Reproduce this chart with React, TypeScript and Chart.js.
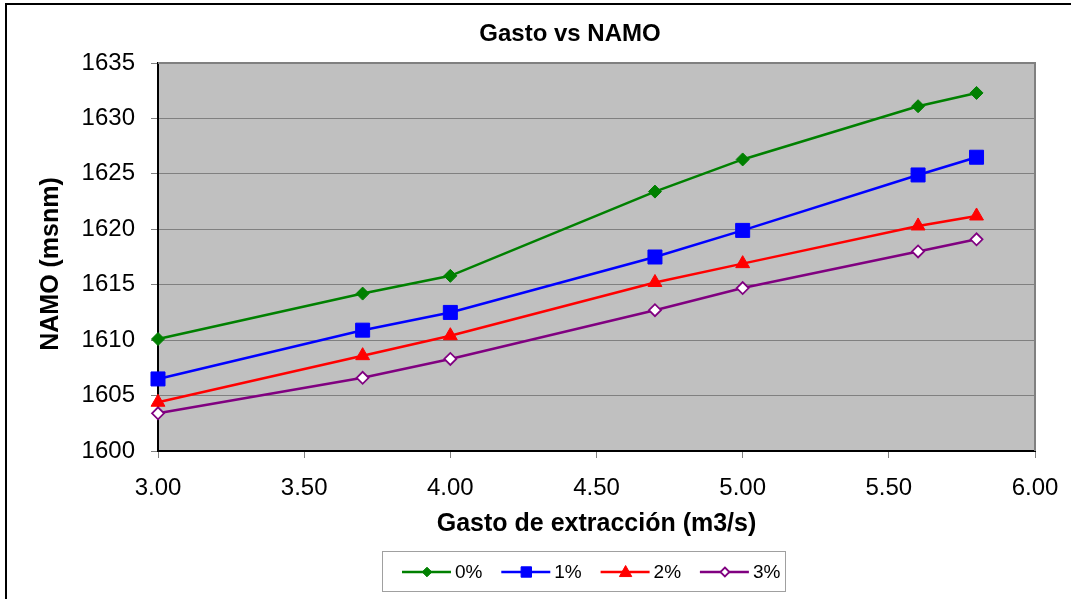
import React, { useEffect, useRef } from "react";
import { Chart, registerables } from "chart.js";

Chart.register(...registerables);

const gastoX = [3.0, 3.7, 4.0, 4.7, 5.0, 5.6, 5.8];
const serie0 = [1610.1, 1614.2, 1615.8, 1623.4, 1626.3, 1631.1, 1632.3];
const serie1 = [1606.5, 1610.9, 1612.5, 1617.5, 1619.9, 1624.9, 1626.5];
const serie2 = [1604.4, 1608.6, 1610.4, 1615.2, 1616.9, 1620.3, 1621.2];
const serie3 = [1603.4, 1606.6, 1608.3, 1612.7, 1614.7, 1618.0, 1619.1];
const seriesNames = ["0%", "1%", "2%", "3%"];
const chartTitle = "Gasto vs NAMO";
const xTitle = "Gasto de extracción (m3/s)";
const yTitle = "NAMO (msnm)";

const FONT = "'Liberation Sans', Arial, sans-serif";

function drawMarker(ctx: CanvasRenderingContext2D, kind: string, x: number, y: number, r: number, stroke: string, fill: string, lw: number) {
  ctx.save();
  ctx.beginPath();
  if (kind === "rectRot") {
    ctx.moveTo(x, y - r);
    ctx.lineTo(x + r, y);
    ctx.lineTo(x, y + r);
    ctx.lineTo(x - r, y);
    ctx.closePath();
  } else if (kind === "rect") {
    ctx.rect(x - r, y - r, 2 * r, 2 * r);
  } else {
    ctx.moveTo(x, y - r);
    ctx.lineTo(x + r * 0.95, y + r * 0.7);
    ctx.lineTo(x - r * 0.95, y + r * 0.7);
    ctx.closePath();
  }
  ctx.fillStyle = fill;
  ctx.fill();
  ctx.lineWidth = lw;
  ctx.strokeStyle = stroke;
  ctx.stroke();
  ctx.restore();
}

export default function App() {
  const ref = useRef<HTMLCanvasElement | null>(null);
  useEffect(() => {
    if (!ref.current) return;
    const mk = (ys: number[]) => gastoX.map((x, i) => ({ x, y: ys[i] }));
    const colors = ["#008000", "#0000FF", "#FF0000", "#800080"];
    const styles = ["rectRot", "rect", "triangle", "rectRot"];
    const radii = [6.5, 9.9, 8, 6];
    const fills = ["#008000", "#0000FF", "#FF0000", "#FFFFFF"];
    const pbw = [1, 1, 1, 1.8];
    const all = [serie0, serie1, serie2, serie3];

    const decor = {
      id: "decor",
      beforeDraw(chart: any) {
        const { ctx, chartArea: a } = chart;
        ctx.save();
        ctx.fillStyle = "#FFFFFF";
        ctx.fillRect(0, 0, chart.width, chart.height);
        ctx.fillStyle = "#C0C0C0";
        ctx.fillRect(a.left, a.top, a.right - a.left, a.bottom - a.top);
        ctx.strokeStyle = "#000000";
        ctx.lineWidth = 2;
        ctx.strokeRect(6, 4, 1200, 800);
        ctx.restore();
      },
      beforeDatasetsDraw(chart: any) {
        const { ctx, chartArea: a } = chart;
        ctx.save();
        ctx.strokeStyle = "#808080";
        ctx.lineWidth = 2;
        ctx.beginPath();
        ctx.moveTo(a.left, a.top);
        ctx.lineTo(a.right, a.top);
        ctx.lineTo(a.right, a.bottom);
        ctx.stroke();
        ctx.restore();
      },
      afterDraw(chart: any) {
        const { ctx } = chart;
        ctx.save();
        ctx.fillStyle = "#000000";
        ctx.font = `bold 24px ${FONT}`;
        ctx.textAlign = "center";
        ctx.textBaseline = "middle";
        ctx.fillText(chartTitle, 570, 34);
        ctx.save();
        ctx.translate(51, 264);
        ctx.rotate(-Math.PI / 2);
        ctx.font = `bold 25px ${FONT}`;
        ctx.fillText(yTitle, 0, 0);
        ctx.restore();
        ctx.strokeStyle = "#A0A0A0";
        ctx.lineWidth = 1;
        ctx.strokeRect(382.5, 551.5, 403, 40);
        const lx0 = 402;
        const step = 99.3;
        const ly = 572;
        const lr = [4.8, 5.2, 6.5, 4.5];
        seriesNames.forEach((name, i) => {
          const x = lx0 + i * step;
          ctx.strokeStyle = colors[i];
          ctx.lineWidth = 2.5;
          ctx.beginPath();
          ctx.moveTo(x, ly);
          ctx.lineTo(x + 49, ly);
          ctx.stroke();
          drawMarker(ctx, styles[i], x + 25, ly, lr[i], colors[i], fills[i], pbw[i]);
          ctx.fillStyle = "#000000";
          ctx.font = `19px ${FONT}`;
          ctx.textAlign = "left";
          ctx.textBaseline = "middle";
          ctx.fillText(name, x + 53, ly + 1);
        });
        ctx.restore();
      },
    };

    const chart = new Chart(ref.current, {
      type: "line",
      data: {
        datasets: all.map((ys, i) => ({
          label: seriesNames[i],
          data: mk(ys),
          borderColor: colors[i],
          backgroundColor: fills[i],
          borderWidth: 2.5,
          pointStyle: styles[i] as any,
          pointRadius: radii[i],
          pointBorderColor: colors[i],
          pointBackgroundColor: fills[i],
          pointBorderWidth: pbw[i],
          tension: 0,
          clip: false as any,
        })),
      },
      options: {
        responsive: false,
        animation: false,
        devicePixelRatio: 1,
        layout: { padding: { left: 8, right: 36, top: 63, bottom: 60 } },
        plugins: {
          legend: { display: false },
          title: { display: false },
          tooltip: { enabled: false },
        },
        scales: {
          x: {
            type: "linear",
            min: 3,
            max: 6,
            afterFit: (s: any) => { s.height = 88; s.paddingLeft = 0; s.paddingRight = 0; },
            ticks: {
              stepSize: 0.5,
              color: "#000",
              font: { family: FONT, size: 24 },
              padding: 16,
              maxRotation: 0,
              callback: (v: any) => Number(v).toFixed(2),
            },
            grid: { drawOnChartArea: false, drawTicks: true, tickLength: 7, color: "#808080" },
            border: { color: "#000000", width: 2 },
            title: {
              display: true,
              text: xTitle,
              color: "#000",
              font: { family: FONT, size: 25, weight: "bold" },
              padding: { top: 0, bottom: 0 },
            },
          },
          y: {
            min: 1600,
            max: 1635,
            afterFit: (s: any) => { s.width = 150; s.paddingTop = 0; s.paddingBottom = 0; },
            ticks: {
              stepSize: 5,
              color: "#000",
              font: { family: FONT, size: 24 },
              padding: 16,
              callback: (v: any) => String(v),
            },
            grid: { color: "#808080", lineWidth: 1, tickLength: 7 },
            border: { color: "#000000", width: 2 },
            title: { display: false },
          },
        },
      },
      plugins: [decor],
    });
    return () => chart.destroy();
  }, []);
  return (
    <div style={{ position: "fixed", left: 0, top: 0, width: 1071, height: 599 }}>
      <canvas ref={ref} width={1071} height={599} />
    </div>
  );
}
